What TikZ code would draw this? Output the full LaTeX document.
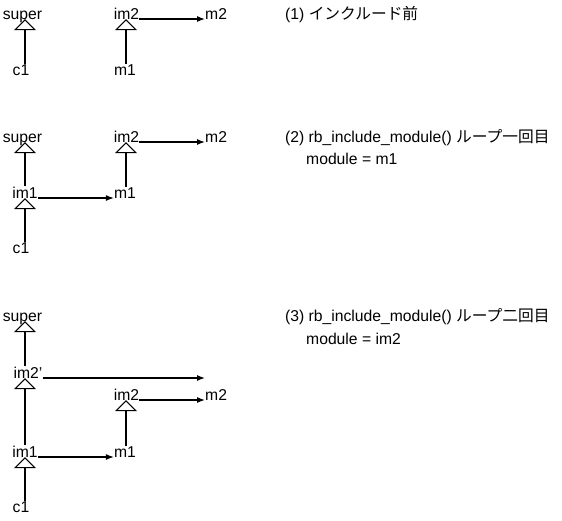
\documentclass[tikz,border=0pt]{standalone}
\usepackage{fontspec}
\setmainfont{Liberation Sans}
\newfontfamily\jpfont{Noto Sans CJK JP}
\usetikzlibrary{arrows.meta}
\begin{document}
\begin{tikzpicture} [
    x=1pt, y=-1pt,
    lbl/.style={inner sep=0pt, anchor=base, text depth=0pt, font=\fontsize{15.7}{19}\selectfont},
    txt/.style={inner sep=0pt, anchor=base west, font=\fontsize{15.7}{19}\selectfont},
    inh/.style={draw, line width=1.2pt, -{Triangle[open,length=11pt,width=22pt,line width=1pt]}},
    ref/.style={draw, line width=1.2pt, -{Latex[length=8pt,width=6pt]}}
  ]
  \useasboundingbox (0,0) rectangle (562,520);
  \coordinate (colL) at (25,0);
  \coordinate (colR) at (126,0);

  % (1)
  \node[lbl] (sup1) at (22.5,19) {super};
  \node[lbl] (c1a) at (21,75) {c1};
  \node[lbl] (im2a) at (126.5,19) {im2};
  \node[lbl] (m1a) at (125,75) {m1};
  \node[lbl, anchor=base west] (m2a) at (205,19) {m2};
  \draw[inh] (c1a.north -| colL) -- (sup1.south -| colL);
  \draw[inh] (m1a.north -| colR) -- (im2a.south -| colR);
  \draw[ref] (im2a.base east) -- (m2a.base west);
  \node[txt] (t1) at (285,19) {(1) {\jpfont インクルード前}};

  % (2)
  \node[lbl] (sup2) at (22.5,142) {super};
  \node[lbl] (im1b) at (25,198) {im1};
  \node[lbl] (c1b) at (21,253) {c1};
  \node[lbl] (im2b) at (126.5,142) {im2};
  \node[lbl] (m1b) at (125,198) {m1};
  \node[lbl, anchor=base west] (m2b) at (205,142) {m2};
  \draw[inh] (im1b.north -| colL) -- (sup2.south -| colL);
  \draw[inh] (c1b.north -| colL) -- (im1b.south -| colL);
  \draw[inh] (m1b.north -| colR) -- (im2b.south -| colR);
  \draw[ref] (im1b.base east) -- (m1b.base west);
  \draw[ref] (im2b.base east) -- (m2b.base west);
  \node[txt] (t2) at (285,142) {(2) rb\_include\_module() {\jpfont ループ一回目}};
  \node[txt] (t2b) at (306,164) {module = m1};

  % (3)
  \node[lbl] (sup3) at (22.5,321) {super};
  \node[lbl] (im2p) at (28,378) {im2'};
  \node[lbl] (im1c) at (25,457) {im1};
  \node[lbl] (c1c) at (21,512) {c1};
  \node[lbl] (im2c) at (126.5,400) {im2};
  \node[lbl] (m1c) at (125,457) {m1};
  \node[lbl, anchor=base west] (m2c) at (205,400) {m2};
  \coordinate (end3) at (m2c.base west |- im2p.base);
  \draw[inh] (im2p.north -| colL) -- (sup3.south -| colL);
  \draw[inh] (im1c.north -| colL) -- (im2p.south -| colL);
  \draw[inh] (c1c.north -| colL) -- (im1c.south -| colL);
  \draw[inh] (m1c.north -| colR) -- (im2c.south -| colR);
  \draw[ref] (im2p.base east) -- (end3);
  \draw[ref] (im1c.base east) -- (m1c.base west);
  \draw[ref] (im2c.base east) -- (m2c.base west);
  \node[txt] (t3) at (285,321) {(3) rb\_include\_module() {\jpfont ループ二回目}};
  \node[txt] (t3b) at (306,344) {module = im2};
\end{tikzpicture}
\end{document}
